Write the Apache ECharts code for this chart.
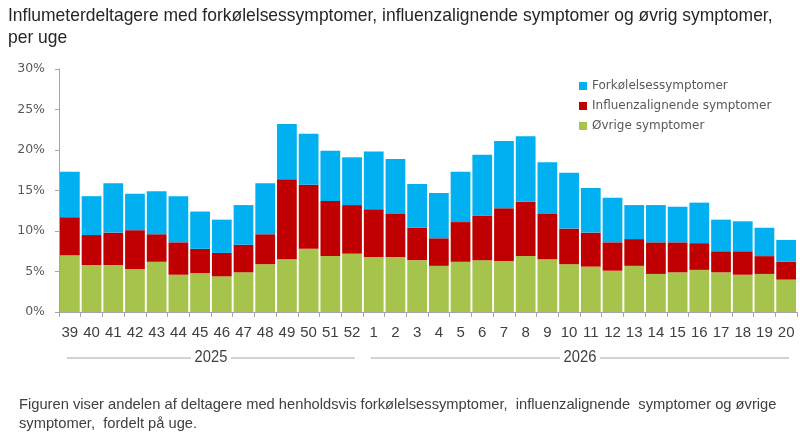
<!DOCTYPE html>
<html>
<head>
<meta charset="utf-8">
<script src="https://cdn.jsdelivr.net/npm/echarts@6/dist/echarts.min.js"></script>
<style>html,body{margin:0;padding:0;background:#fff}#c{width:800px;height:432px}</style>
</head>
<body>
<div id="c"></div>
<script>
const weeks = ['39','40','41','42','43','44','45','46','47','48','49','50','51','52','1','2','3','4','5','6','7','8','9','10','11','12','13','14','15','16','17','18','19','20'];
const years = ['2025', '2026'];
const yearSpans = [[0, 13], [14, 33]];
const ovrige = [7.0,5.8,5.8,5.3,6.2,4.6,4.8,4.4,4.9,5.9,6.5,7.8,6.9,7.2,6.8,6.8,6.4,5.7,6.2,6.4,6.3,6.9,6.5,5.9,5.6,5.1,5.7,4.7,4.9,5.2,4.9,4.6,4.7,4.0];
const influenza = [4.7,3.7,4.0,4.8,3.4,4.0,3.0,2.9,3.4,3.7,9.9,7.9,6.8,6.0,5.9,5.3,4.0,3.4,4.9,5.5,6.5,6.7,5.6,4.4,4.2,3.5,3.3,3.9,3.7,3.3,2.6,2.9,2.2,2.2];
const forkoelelse = [5.6,4.8,6.1,4.5,5.3,5.7,4.6,4.1,4.9,6.3,6.8,6.3,6.2,5.9,7.1,6.8,5.4,5.6,6.2,7.5,8.3,8.1,6.4,6.9,5.5,5.5,4.2,4.6,4.4,5.0,3.9,3.7,3.5,2.7];
const yTicks = [0, 5, 10, 15, 20, 25, 30];
const titleText = 'Influmeterdeltagere med forkølelsessymptomer, influenzalignende symptomer og øvrig symptomer,\nper uge';
const noteText = 'Figuren viser andelen af deltagere med henholdsvis forkølelsessymptomer,  influenzalignende  symptomer og øvrige\nsymptomer,  fordelt på uge.';

const narrow = '"Liberation Sans", Arial, sans-serif';
const verd = '"DejaVu Sans", Verdana, sans-serif';
const chart = echarts.init(document.getElementById('c'), null, {renderer: 'canvas'});
const axisGray = '#A6A6A6';

function buildGraphics() {
  const g = [
    {type: 'text', x: 8, y: 5, scaleX: 0.92, style: {text: titleText, font: '19px ' + narrow, fill: '#262626', lineHeight: 22}},
    {type: 'text', x: 19, y: 395, scaleX: 0.98, style: {text: noteText, font: '15px ' + narrow, fill: '#404040', lineHeight: 19}}
  ];
  const p0 = chart.convertToPixel({xAxisIndex: 0}, 0);
  const p1 = chart.convertToPixel({xAxisIndex: 0}, 1);
  const bw = p1 - p0;
  const yy = 358;
  years.forEach((yr, i) => {
    const a = chart.convertToPixel({xAxisIndex: 0}, yearSpans[i][0]) - bw / 2;
    const b = chart.convertToPixel({xAxisIndex: 0}, yearSpans[i][1]) + bw / 2;
    const c = (a + b) / 2;
    g.push({type: 'text', x: c, y: yy, scaleX: 0.92, style: {text: yr, font: '16px ' + narrow, fill: '#404040', align: 'center', verticalAlign: 'middle'}});
    g.push({type: 'line', shape: {x1: a + 8, y1: yy, x2: c - 20, y2: yy}, style: {stroke: axisGray, lineWidth: 1}});
    g.push({type: 'line', shape: {x1: c + 20, y1: yy, x2: b - 8, y2: yy}, style: {stroke: axisGray, lineWidth: 1}});
  });
  return g;
}

const option = {
  animation: false,
  backgroundColor: '#fff',
  grid: {left: 59, right: 3, top: 69, bottom: 120, containLabel: false},
  legend: {
    orient: 'vertical', left: 574, top: 75, itemWidth: 8, itemHeight: 8, itemGap: 8, icon: 'rect',
    textStyle: {fontFamily: verd, fontSize: 12, color: '#595959'},
    data: ['Forkølelsessymptomer', 'Influenzalignende symptomer', 'Øvrige symptomer']
  },
  xAxis: {
    type: 'category', data: weeks,
    axisLine: {lineStyle: {color: axisGray}},
    axisTick: {show: true, interval: 0, length: 5, lineStyle: {color: axisGray}},
    axisLabel: {interval: 0, margin: 13, fontFamily: narrow, fontSize: 15, color: '#404040'}
  },
  yAxis: {
    type: 'value', min: yTicks[0], max: yTicks[yTicks.length - 1], interval: 5,
    axisLine: {show: true, lineStyle: {color: axisGray}},
    axisTick: {show: true, length: 4, lineStyle: {color: axisGray}},
    splitLine: {show: false},
    axisLabel: {formatter: '{value}%', fontFamily: verd, fontSize: 12.5, color: '#595959', margin: 14}
  },
  series: [
    {name: 'Øvrige symptomer', type: 'bar', stack: 's', data: ovrige, itemStyle: {color: '#A6C34C'}, barCategoryGap: '9%'},
    {name: 'Influenzalignende symptomer', type: 'bar', stack: 's', data: influenza, itemStyle: {color: '#C00000'}},
    {name: 'Forkølelsessymptomer', type: 'bar', stack: 's', data: forkoelelse, itemStyle: {color: '#00B0F0'}}
  ]
};
chart.setOption(option);
chart.setOption({graphic: buildGraphics()});
</script>
</body>
</html>
